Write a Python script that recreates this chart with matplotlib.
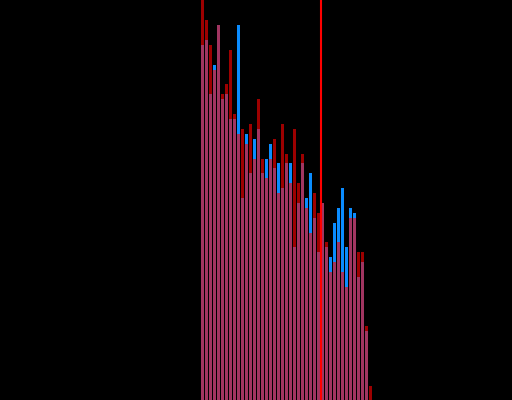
import numpy as np
import matplotlib
matplotlib.use('Agg')
import matplotlib.pyplot as plt

# bar heights (one bin per bar)
blue = [355, 360, 306, 335, 375, 301, 306, 281, 281, 375,
        202, 266, 227, 261, 271, 227, 241, 256, 232, 237,
        212, 237, 237, 153, 197, 237, 202, 227, 182, 148,
        197, 153, 143, 177, 192, 212, 153, 192, 187, 123,
        138, 69, 0]
red = [405, 380, 355, 330, 375, 306, 316, 350, 286, 266,
       271, 256, 276, 241, 301, 241, 222, 241, 261, 207,
       276, 246, 217, 271, 217, 246, 192, 167, 207, 187,
       197, 158, 128, 138, 158, 128, 113, 182, 182, 148,
       148, 74, 14]
marker = 29.875

bins = np.arange(len(blue))

fig = plt.figure(figsize=(5.12, 4.0), dpi=100, facecolor='black')
ax = fig.add_axes([0, 0, 1, 1])
ax.set_facecolor('black')

ax.bar(bins, blue, width=0.75, align='edge', color='#0a8cff', linewidth=0)
ax.bar(bins, red, width=0.75, align='edge', color='#ff0000', alpha=0.62, linewidth=0)
ax.axvline(marker, color='#ff0000', linewidth=1.5, zorder=5)

ax.set_xlim(-50.25, 77.75)
ax.set_ylim(0, 400)
ax.axis('off')

plt.savefig('out.png', dpi=100, facecolor='black')
